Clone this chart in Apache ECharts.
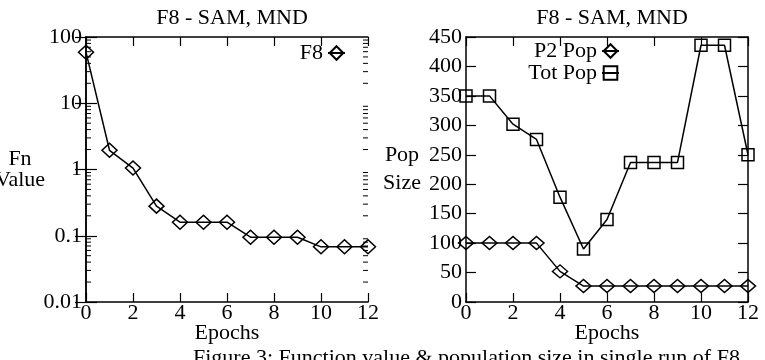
<!DOCTYPE html>
<html>
<head>
<meta charset="utf-8">
<script src="https://cdn.jsdelivr.net/npm/echarts@6/dist/echarts.min.js"></script>
<style>
  html, body { margin: 0; padding: 0; background: #fff; }
  #echarts { width: 765px; height: 360px; }
</style>
</head>
<body>
<div id="echarts"></div>
<script>
var myChart = echarts.init(document.getElementById('echarts'));

// epochs 0..12
var epochs = [0, 1, 2, 3, 4, 5, 6, 7, 8, 9, 10, 11, 12];
// left panel: function value (log scale)
var f8Value = [59, 1.95, 1.05, 0.28, 0.16, 0.16, 0.16, 0.095, 0.095, 0.095, 0.068, 0.068, 0.068];
// right panel: population sizes
var p2Pop = [100, 100, 100, 100, 52, 27, 27, 27, 27, 27, 27, 27, 27];
var totPop = [350, 350, 302, 276, 178, 90, 140, 237, 237, 237, 436, 436, 250];
// minor ticks on the log axis
var logMinor = [];
[0.01, 0.1, 1, 10].forEach(function (d) {
    for (var k = 2; k <= 9; k++) logMinor.push(+(d * k).toPrecision(2));
});

var font = 'Liberation Serif';
var fs = 22;

function zip(ys) {
    return epochs.map(function (x, i) { return [x, ys[i]]; });
}

function xAxisBase(grid, bottom) {
    return {
        type: 'value', gridIndex: grid, min: 0, max: 12, interval: 2,
        position: bottom ? 'bottom' : 'top',
        name: bottom ? 'Epochs' : '', nameLocation: 'middle', nameGap: 20,
        nameMoveOverlap: false,
        nameTextStyle: { color: '#000', fontFamily: font, fontSize: fs },
        axisLine: { show: true, onZero: false, lineStyle: { color: '#000', width: 1.5 } },
        axisTick: { show: true, inside: true, length: 9, lineStyle: { color: '#000', width: 1.2 } },
        axisLabel: { show: bottom, color: '#000', fontFamily: font, fontSize: fs, margin: 0 },
        splitLine: { show: false }
    };
}

function lineSeries(name, data, sym, size, xi, yi) {
    return {
        name: name, type: 'line', data: zip(data),
        xAxisIndex: xi, yAxisIndex: yi,
        symbol: sym, symbolSize: size, showAllSymbol: true,
        lineStyle: { color: '#000', width: 1.5 },
        itemStyle: { color: 'rgba(255,255,255,0)', borderColor: '#000', borderWidth: 1.5 },
        emphasis: { disabled: true },
        clip: false, animation: false
    };
}

function legendBox(name, right, top) {
    return {
        data: [name], right: right, top: top, align: 'right',
        itemWidth: 17, itemHeight: 17, itemGap: 0, padding: 0,
        textStyle: { color: '#000', fontFamily: font, fontSize: fs, padding: [0, 0, 0, 0] }
    };
}

var option = {
    backgroundColor: '#fff',
    animation: false,
    title: [
        { text: 'F8 - SAM, MND', left: 227, top: 2, textAlign: 'center',
          textStyle: { color: '#000', fontFamily: font, fontSize: fs, fontWeight: 'normal' } },
        { text: 'F8 - SAM, MND', left: 607, top: 2, textAlign: 'center',
          textStyle: { color: '#000', fontFamily: font, fontSize: fs, fontWeight: 'normal' } }
    ],
    legend: [
        legendBox('F8', 419, 42),
        legendBox('P2 Pop', 145, 40),
        legendBox('Tot Pop', 145, 62)
    ],
    grid: [
        { left: 86, right: 397, top: 37, bottom: 58, outerBoundsMode: 'none' },
        { left: 466, right: 17, top: 37, bottom: 58, outerBoundsMode: 'none' }
    ],
    xAxis: [
        xAxisBase(0, true), xAxisBase(0, false),
        xAxisBase(1, true), xAxisBase(1, false)
    ],
    yAxis: [
        {
            type: 'log', logBase: 10, gridIndex: 0, min: 0.01, max: 100, position: 'left',
            name: 'Fn\nValue', nameLocation: 'middle', nameRotate: 0, nameGap: 66,
            nameMoveOverlap: false,
            nameTextStyle: { color: '#000', fontFamily: font, fontSize: fs, lineHeight: 21,
                align: 'center', padding: [9, 0, 0, 0] },
            axisLine: { show: true, lineStyle: { color: '#000', width: 1.5 } },
            axisTick: { show: true, inside: true, length: 11, lineStyle: { color: '#000', width: 1.2 } },
            axisLabel: { color: '#000', fontFamily: font, fontSize: fs, margin: 4,
                formatter: function (v) { return String(+v.toPrecision(2)); } },
            splitLine: { show: false }
        },
        {
            type: 'log', logBase: 10, gridIndex: 0, min: 0.01, max: 100, position: 'right',
            axisLine: { show: true, lineStyle: { color: '#000', width: 1.5 } },
            axisTick: { show: true, inside: true, length: 11, lineStyle: { color: '#000', width: 1.2 } },
            axisLabel: { show: false }, splitLine: { show: false }
        },
        {
            type: 'value', gridIndex: 1, min: 0, max: 450, interval: 50, position: 'left',
            name: 'Pop\nSize', nameLocation: 'middle', nameRotate: 0, nameGap: 64,
            nameMoveOverlap: false,
            nameTextStyle: { color: '#000', fontFamily: font, fontSize: fs, lineHeight: 28,
                align: 'center', padding: [3, 0, 0, 0] },
            axisLine: { show: true, onZero: false, lineStyle: { color: '#000', width: 1.5 } },
            axisTick: { show: true, inside: true, length: 10, lineStyle: { color: '#000', width: 1.2 } },
            axisLabel: { color: '#000', fontFamily: font, fontSize: fs, margin: 4 },
            splitLine: { show: false }
        },
        {
            type: 'value', gridIndex: 1, min: 0, max: 450, interval: 50, position: 'right',
            axisLine: { show: true, onZero: false, lineStyle: { color: '#000', width: 1.5 } },
            axisTick: { show: true, inside: true, length: 10, lineStyle: { color: '#000', width: 1.2 } },
            axisLabel: { show: false }, splitLine: { show: false }
        }
    ],
    series: [
        {
            // log-spaced minor ticks on both sides of the left panel
            type: 'custom', xAxisIndex: 0, yAxisIndex: 0, silent: true, clip: false,
            data: logMinor.map(function (v) { return [0, v]; }),
            renderItem: function (params, api) {
                var l = api.coord([0, api.value(1)]);
                var r = api.coord([12, api.value(1)]);
                var st = { stroke: '#000', lineWidth: 1 };
                return { type: 'group', children: [
                    { type: 'line', shape: { x1: l[0], y1: l[1], x2: l[0] + 5, y2: l[1] }, style: st },
                    { type: 'line', shape: { x1: r[0] - 5, y1: r[1], x2: r[0], y2: r[1] }, style: st }
                ] };
            }
        },
        lineSeries('F8', f8Value, 'diamond', [15, 14], 0, 0),
        lineSeries('P2 Pop', p2Pop, 'diamond', [15, 13], 2, 2),
        lineSeries('Tot Pop', totPop, 'rect', 12, 2, 2)
    ],
    graphic: [
        { type: 'text', left: 193, top: 347,
          style: { text: 'Figure 3: Function value & population size in single run of F8',
                   fill: '#000', font: '22px "Liberation Serif"' } }
    ]
};
myChart.setOption(option);
</script>
</body>
</html>
